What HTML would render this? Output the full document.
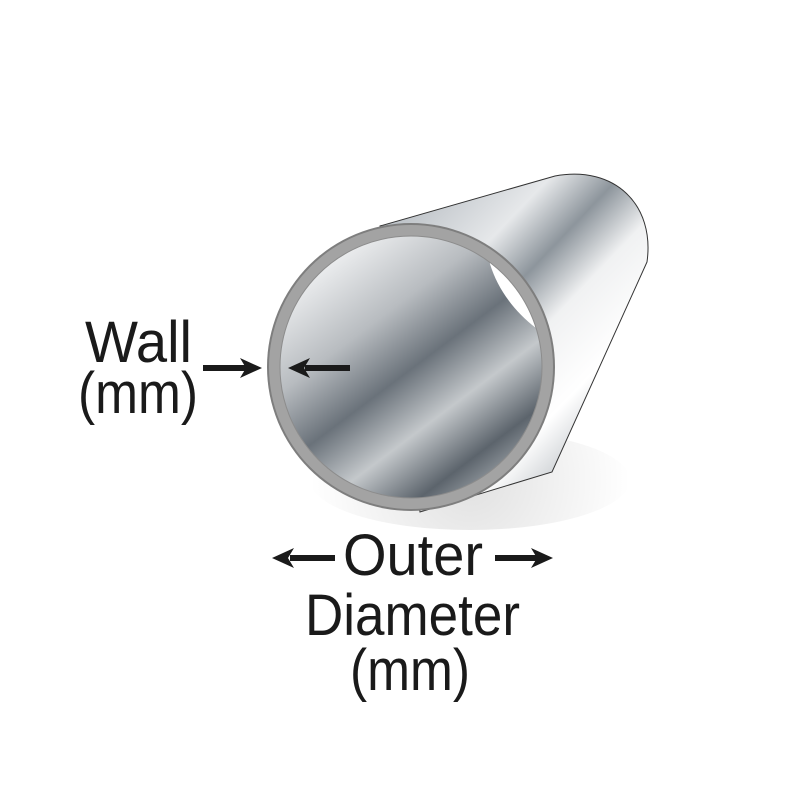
<!DOCTYPE html>
<html><head><style>body{margin:0;background:#fff}svg{display:block}</style></head>
<body>
<svg width="792" height="792" viewBox="0 0 792 792" xmlns="http://www.w3.org/2000/svg">
<defs>
<linearGradient id="body" x1="400" y1="190" x2="640" y2="420" gradientUnits="userSpaceOnUse">
<stop offset="0" stop-color="#b4bac0"/>
<stop offset="0.3" stop-color="#e6e8ea"/>
<stop offset="0.45" stop-color="#8d959c"/>
<stop offset="0.6" stop-color="#f0f1f2"/>
<stop offset="0.8" stop-color="#ffffff"/>
<stop offset="1" stop-color="#b8bdc2"/>
</linearGradient>
<linearGradient id="inner" x1="320" y1="250" x2="500" y2="490" gradientUnits="userSpaceOnUse">
<stop offset="0" stop-color="#f6f7f8"/>
<stop offset="0.3" stop-color="#b8bcc0"/>
<stop offset="0.5" stop-color="#6a727a"/>
<stop offset="0.68" stop-color="#c4c8cb"/>
<stop offset="0.86" stop-color="#5c646c"/>
<stop offset="1" stop-color="#a8aeb3"/>
</linearGradient>
<radialGradient id="shadow" cx="470" cy="480" r="160" gradientUnits="userSpaceOnUse">
<stop offset="0" stop-color="#000" stop-opacity="0.12"/>
<stop offset="1" stop-color="#000" stop-opacity="0"/>
</radialGradient>
<clipPath id="ic"><circle cx="411" cy="367" r="131"/></clipPath>
</defs>
<ellipse cx="470" cy="480" rx="160" ry="50" fill="url(#shadow)"/>
<path d="M380,226 L555,176 C615,165 655,205 647,262 L552,472 L420,512 Z" fill="url(#body)" stroke="#333" stroke-width="1"/>
<circle cx="411" cy="367" r="144" fill="#7e7e7e"/>
<circle cx="411" cy="367" r="142" fill="#a3a3a3"/>
<circle cx="411" cy="367" r="131" fill="url(#inner)"/>
<path d="M488,250 L490,264 C498,290 515,312 536,328 L560,300 L540,240 Z" fill="#fff" clip-path="url(#ic)"/>
<circle cx="411" cy="367" r="131" fill="none" stroke="#8c8c8c" stroke-width="1"/>
<g fill="#1a1a1a">
<rect x="203" y="365" width="45" height="6"/>
<polygon points="262,368 240,358 246,368 240,378"/>
<rect x="305" y="365" width="45" height="6"/>
<polygon points="288,368 310,358 304,368 310,378"/>
<rect x="290" y="555" width="45" height="6"/>
<polygon points="272,558 294,548 288,558 294,568"/>
<rect x="495" y="555" width="42" height="6"/>
<polygon points="553,558 531,548 537,558 531,568"/>
</g>
<g font-family="Liberation Sans, sans-serif" font-size="58" fill="#1a1a1a">
<text x="85" y="362" textLength="107" lengthAdjust="spacingAndGlyphs">Wall</text>
<text x="78" y="413" textLength="120" lengthAdjust="spacingAndGlyphs">(mm)</text>
<text x="343" y="575" textLength="140" lengthAdjust="spacingAndGlyphs">Outer</text>
<text x="305" y="635" textLength="215" lengthAdjust="spacingAndGlyphs">Diameter</text>
<text x="350" y="690" textLength="120" lengthAdjust="spacingAndGlyphs">(mm)</text>
</g>
</svg>
</body></html>
